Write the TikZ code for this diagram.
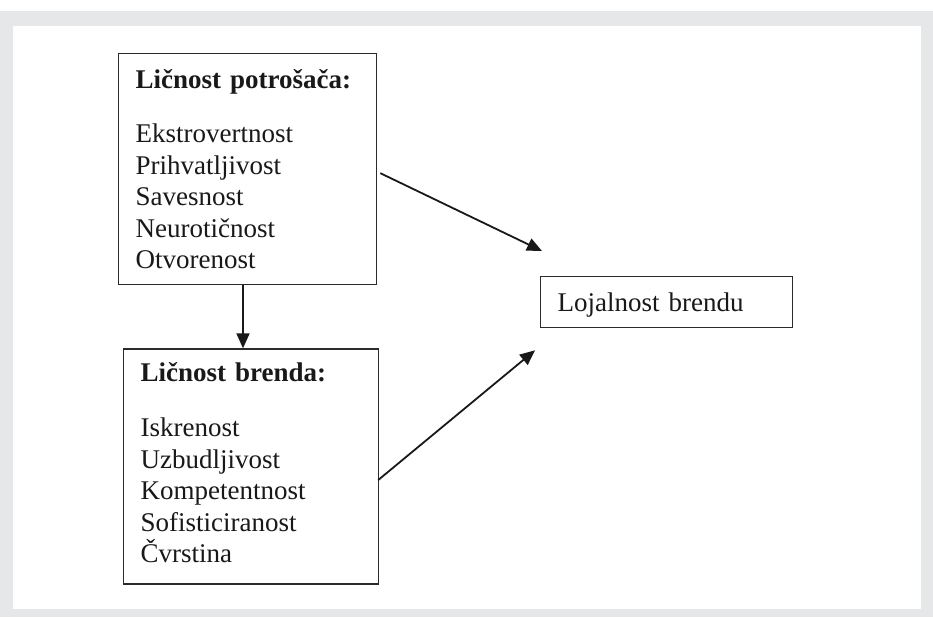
\documentclass[tikz,border=0pt]{standalone}
\usepackage{fontspec}
\setmainfont{Liberation Serif}
\usetikzlibrary{arrows.meta,positioning}
\definecolor{okvir}{HTML}{2B2B2B}
\definecolor{siva}{HTML}{E6E7E8}
\newcommand{\naslov}[1]{\textbf{#1}}
\tikzset{
  kutija/.style={draw=okvir,line width=0.65pt,align=left,inner xsep=8.5pt,inner ysep=0pt,font=\fontsize{13.5pt}{15.75pt}\selectfont,text=black!90},
  ar/.style={-{Triangle[length=7.5pt,width=6.5pt]},line width=0.9pt,draw=black!90},
}
\begin{document}
\begin{tikzpicture}[x=0.5pt,y=-0.5pt]
\useasboundingbox (0,0) rectangle (933,617);
\fill[siva] (0,11) rectangle (933,617);
\fill[white] (13,26) rectangle (921,609);
% licnost potrosaca i brenda
\node[kutija,text width=112pt,minimum height=115.5pt,anchor=north west] (potr) at (118,53)
  {\naslov{Ličnost potrošača:}\\[11.5pt]Ekstrovertnost\\Prihvatljivost\\Savesnost\\Neurotičnost\\Otvorenost};
\node[kutija,text width=110.5pt,minimum height=117.5pt,below=31.5pt of potr,xshift=1.75pt] (brend)
  {\naslov{Ličnost brenda:}\\[12pt]Iskrenost\\Uzbudljivost\\Kompetentnost\\Sofisticiranost\\Čvrstina\rule[-4pt]{0pt}{4pt}};
\node[kutija,text width=109pt,text height=17.5pt,text depth=8pt,anchor=north west] (loj) at (540,276) {Lojalnost brendu};
% strelice
\coordinate (strel) at (243,0);
\draw[ar] (potr.south -| strel) -- (brend.north -| strel);
\draw[ar] ([shift={(3,4)}]potr.east) -- ([shift={(2,-25)}]loj.north west);
\draw[ar] ([shift={(-1,13.5)}]brend.east) -- ([shift={(-5,22)}]loj.south west);
\end{tikzpicture}
\end{document}
